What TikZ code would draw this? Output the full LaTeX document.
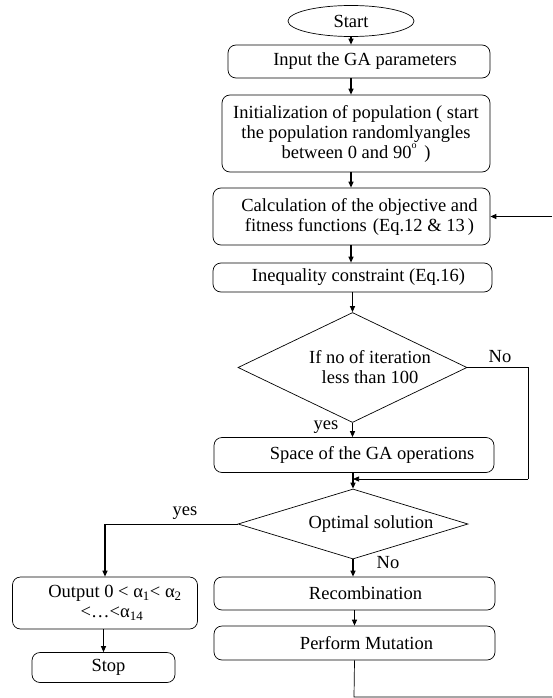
\documentclass[tikz,border=0pt]{standalone}
\usepackage{fontspec}
\setmainfont{Liberation Serif}
\usetikzlibrary{shapes.geometric,arrows.meta}

\begin{document}
\begin{tikzpicture}[x=1pt,y=-1pt,
  every node/.style={font=\fontsize{18.5}{20}\selectfont},
  box/.style={draw, rounded corners=8pt, line width=0.7pt, align=center, inner sep=0pt},
  dec/.style={draw, diamond, line width=0.7pt, inner sep=0pt},
  flow/.style={line width=1.1pt, -{Triangle[length=6pt,width=5pt]}},
  wire/.style={line width=0.7pt},
  back/.style={line width=0.7pt, -{Triangle[length=6pt,width=5pt]}},
  lbl/.style={inner sep=0pt, align=center}
]
\useasboundingbox (0,0) rectangle (552,698);

% main column
\node[draw, ellipse, line width=0.7pt, inner sep=0pt, minimum width=126pt, minimum height=31pt] (start) at (351,21) {Start};
\node[box, minimum width=262pt, minimum height=33pt] (input) at (359,61.5) {\hspace*{12pt}Input the GA parameters};
\node[box, minimum width=268pt, minimum height=77pt] (init) at (356,133.5)
  {Initialization of population ( start\\ the population randomlyangles\\
   between 0 and 90\raisebox{1.1ex}{\fontsize{10}{10}\selectfont o}\ \,)};
\node[box, minimum width=277pt, minimum height=57pt] (calc) at (351.5,216.5)
  {\hspace*{16pt}Calculation of the objective and\\ \hspace*{16pt}fitness functions\,\,(Eq.12 \& 13\,)};
\node[box, minimum width=279pt, minimum height=29pt] (ineq) at (352.5,277.5) {\hspace*{12pt}Inequality constraint (Eq.16)};

% iteration test
\node[dec, minimum width=229pt, minimum height=110pt] (d1) at (352.5,367.5) {};
\node[lbl] (d1text) at (370,367) {If no of iteration\\ less than 100};
\node[lbl] (d1no) at (500,357) {No};
\node[lbl] (d1yes) at (326,427) {yes};

\node[box, minimum width=280pt, minimum height=35pt] (space) at (354,455) {\hspace*{36pt}Space of the GA operations};

% optimality test
\node[dec, minimum width=230pt, minimum height=70pt] (d2) at (353,524) {};
\node[lbl] (d2text) at (371,524) {Optimal solution};
\node[lbl] (d2yes) at (185,513) {yes};
\node[lbl] (d2no) at (388,563) {No};

% right branch
\node[box, minimum width=281pt, minimum height=33pt] (recomb) at (354.5,593.5) {\hspace*{22pt}Recombination};
\node[box, minimum width=281pt, minimum height=34pt] (mutation) at (354.5,643) {\hspace*{24pt}Perform Mutation};

% left branch
\node[box, minimum width=185pt, minimum height=52pt] (output) at (105,603)
  {\hspace*{20pt}Output 0 < α\textsubscript{1}< α\textsubscript{2}\\ \hspace*{14pt}<\ldots<α\textsubscript{14}};
\node[box, minimum width=143pt, minimum height=30pt] (stop) at (103.5,667.5) {\hspace*{10pt}Stop};

% helper points for the loops
\coordinate (nocorner) at (528,367.5);
\coordinate (nojoin) at (528,479);
\coordinate (loopbottom) at (354,697);
\coordinate (loopright) at (552,697);
\coordinate (feedin) at (552,216.5);

% straight-down arrows
\draw[flow] (start.south) -- (input.north -| start.south);
\draw[flow] (input.south -| start.south) -- (init.north -| start.south);
\draw[flow] (init.south -| start.south) -- (calc.north -| start.south);
\draw[flow] (calc.south -| start.south) -- (ineq.north -| start.south);
\draw[flow] (ineq.south -| d1.north) -- (d1.north);
\draw[flow] (d1.south) -- (space.north -| d1.south);
\draw[flow] (space.south -| d2.north) -- (d2.north);
\draw[flow] (d2.south) -- (recomb.north -| d2.south);
\draw[flow] (recomb.south -| mutation.south) -- (mutation.north);
\draw[flow] (output.south -| stop.north) -- (stop.north);

% "No" branch of the iteration test
\draw[wire] (d1.east) -- (nocorner) -- (nojoin);
\draw[back] (nojoin) -- (nojoin -| d2.north);

% "yes" branch of the optimality test
\draw[wire] (d2.west) -- (d2.west -| output.north);
\draw[flow] (d2.west -| output.north) -- (output.north);

% loop back from the mutation step
\draw[wire] (mutation.south) -- (loopbottom) -- (loopright);
\draw[flow] (feedin) -- (calc.east);
\end{tikzpicture}
\end{document}
